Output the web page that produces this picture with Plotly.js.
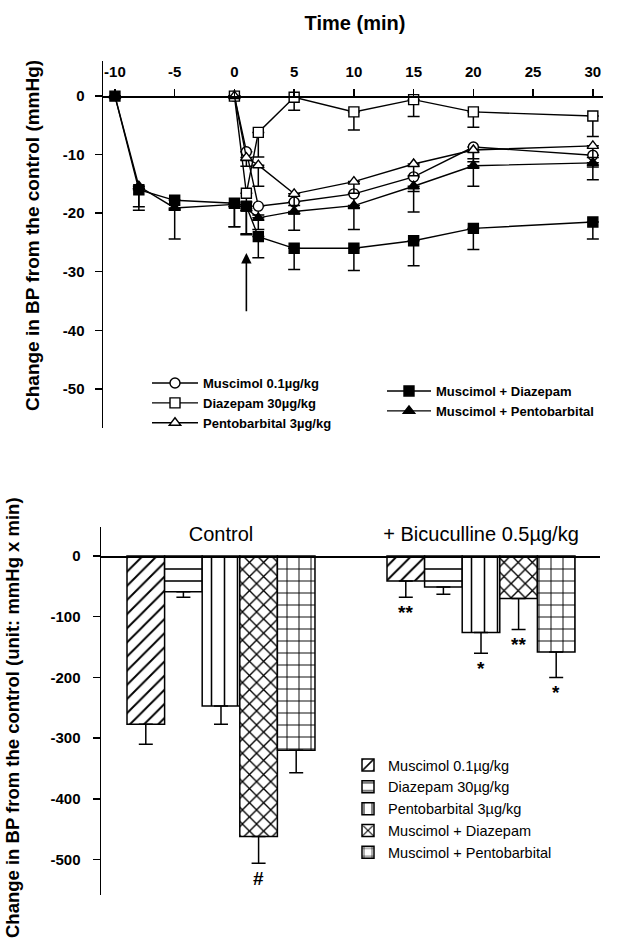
<!DOCTYPE html>
<html>
<head>
<meta charset="utf-8">
<script src="https://cdn.plot.ly/plotly-3.0.1.min.js"></script>
<style>html,body{margin:0;padding:0;background:#fff;}#chart{width:633px;height:938px;}</style>
</head>
<body>
<div id="chart"></div>
<script>
// ---------- Top panel data (time course) ----------
const timeSingle = [0, 1, 2, 5, 10, 15, 20, 30];
const timeCombo = [-10, -8, -5, 0, 1, 2, 5, 10, 15, 20, 30];

const muscimol = [0, -9.5, -18.8, -18.1, -16.7, -13.8, -8.7, -10.1];
const muscimolErr = [0, 1.5, 1.5, 2.0, 2.5, 2.5, 2.0, 2.0];
const diazepam = [0, -16.6, -6.2, -0.2, -2.7, -0.6, -2.7, -3.4];
const diazepamErr = [0, 1.5, 4.2, 2.2, 3.1, 2.9, 2.6, 3.5];
const pentobarbital = [0, -10.5, -11.8, -16.7, -14.6, -11.6, -9.2, -8.5];
const pentobarbitalErr = [0, 1.5, 3.6, 2.0, 2.0, 2.0, 2.0, 2.0];
const muscDiaz = [0, -16.0, -17.8, -18.3, -18.8, -24.0, -26.0, -26.0, -24.7, -22.6, -21.5];
const muscDiazErr = [0, 3.5, 1.5, 4.0, 4.7, 3.6, 3.6, 3.8, 4.3, 3.6, 2.9];
const muscPento = [0, -15.4, -19.1, -18.5, -19.2, -20.8, -19.7, -18.7, -15.4, -11.9, -11.4];
const muscPentoErr = [0, 3.5, 5.3, 3.8, 4.5, 2.0, 3.2, 4.1, 4.4, 3.5, 2.9];

const timeTicks = [-10, -5, 0, 5, 10, 15, 20, 25, 30];
const bpTicks = [0, -10, -20, -30, -40, -50];
const injectionTime = 1;

// ---------- Bottom panel data (AUC) ----------
const groups = ['Control', '+ Bicuculline 0.5µg/kg'];
const barNames = ['Muscimol 0.1µg/kg', 'Diazepam 30µg/kg', 'Pentobarbital 3µg/kg', 'Muscimol + Diazepam', 'Muscimol + Pentobarbital'];
const barVals = [[-277, -41], [-59, -51], [-247, -126], [-462, -70], [-320, -158]];
const barErr = [[33, 27], [9, 12], [30, 34], [44, 51], [37, 42]];
const barSig = [['', '**'], ['', ''], ['', '*'], ['#', '**'], ['', '*']];
const aucTicks = [0, -100, -200, -300, -400, -500];

// ---------- styling ----------
const FONT = 'Liberation Sans, Arial, Helvetica, sans-serif';
const bargap = 0.277;
const patterns = [
  {shape: '/', size: 10, solidity: 0.2},
  {shape: '-', size: 12, solidity: 0.13},
  {shape: '|', size: 13, solidity: 0.12},
  {shape: 'x', size: 10, solidity: 0.25},
  {shape: '+', size: 12, solidity: 0.15}
];

function lineTrace(x, y, err, name, symbol, filled, legend) {
  return {
    type: 'scatter', mode: 'lines+markers', x: x, y: y, name: name,
    xaxis: 'x', yaxis: 'y', legend: legend, cliponaxis: false,
    line: {color: 'black', width: 1.4},
    marker: {symbol: symbol, size: 10, color: filled ? 'black' : 'white',
             line: {color: 'black', width: 1.4}},
    error_y: {type: 'data', symmetric: false, array: y.map(() => 0), arrayminus: err,
              color: 'black', thickness: 1.5, width: 6}
  };
}

const traces = [
  lineTrace(timeSingle, muscimol, muscimolErr, 'Muscimol 0.1µg/kg', 'circle', false, 'legend'),
  lineTrace(timeSingle, diazepam, diazepamErr, 'Diazepam 30µg/kg', 'square', false, 'legend'),
  lineTrace(timeSingle, pentobarbital, pentobarbitalErr, 'Pentobarbital 3µg/kg', 'triangle-up', false, 'legend'),
  lineTrace(timeCombo, muscDiaz, muscDiazErr, 'Muscimol + Diazepam', 'square', true, 'legend2'),
  lineTrace(timeCombo, muscPento, muscPentoErr, 'Muscimol + Pentobarbital', 'triangle-up', true, 'legend2')
];

barNames.forEach((nm, i) => {
  traces.push({
    type: 'bar', x: groups, y: barVals[i], name: nm,
    xaxis: 'x2', yaxis: 'y2', legend: 'legend3',
    marker: {color: 'white', line: {color: 'black', width: 1.5},
             pattern: Object.assign({fgcolor: 'black', bgcolor: 'white', fillmode: 'replace'}, patterns[i])},
    error_y: {type: 'data', symmetric: false, array: barVals[i].map(() => 0), arrayminus: barErr[i],
              color: 'black', thickness: 1.5, width: 7}
  });
});

const W = 633, H = 938;
const px = v => v / W;
const py = v => 1 - v / H;

const annotations = [
  {text: 'Change in BP from the control (mmHg)', xref: 'paper', yref: 'paper', x: px(32), y: py(236),
   xanchor: 'center', yanchor: 'middle',
   textangle: -90, showarrow: false, font: {size: 19, weight: 'bold', family: FONT}},
  {text: 'Change in BP from the control (unit: mmHg x min)', xref: 'paper', yref: 'paper', x: px(12), y: py(718),
   xanchor: 'center', yanchor: 'middle',
   textangle: -90, showarrow: false, font: {size: 18.5, weight: 'bold', family: FONT}},
  {text: '', xref: 'x', yref: 'y', x: injectionTime, y: -26.8, axref: 'x', ayref: 'y', ax: injectionTime, ay: -37,
   showarrow: true, arrowhead: 2, arrowsize: 1.3, arrowwidth: 1.6, arrowcolor: 'black'}
];

const slot = (1 - bargap) / barNames.length;
barNames.forEach((nm, i) => {
  groups.forEach((g, gi) => {
    if (barSig[i][gi]) {
      annotations.push({
        text: barSig[i][gi], xref: 'x2', yref: 'y2',
        x: gi + (i - (barNames.length - 1) / 2) * slot,
        y: barVals[i][gi] - barErr[i][gi], yshift: -15, yanchor: 'middle',
        showarrow: false, font: {size: 19, weight: 'bold', family: FONT}
      });
    }
  });
});

const axisCommon = {showline: true, linecolor: 'black', linewidth: 1.5, showgrid: false, zeroline: false,
                    ticks: 'outside', tickcolor: 'black', tickwidth: 1.5, ticklen: 7};

const layout = {
  width: W, height: H,
  margin: {l: 0, r: 0, t: 0, b: 0},
  paper_bgcolor: 'white', plot_bgcolor: 'rgba(0,0,0,0)',
  font: {family: FONT, color: 'black'},
  title: {text: 'Time (min)', x: px(355), y: py(23), xref: 'paper', yref: 'paper',
          xanchor: 'center', yanchor: 'middle', font: {size: 20, weight: 'bold', family: FONT}},
  barmode: 'group', bargap: bargap, bargroupgap: 0,
  xaxis: Object.assign({}, axisCommon, {
    domain: [px(103), px(603)], range: [-11, 30.85], anchor: 'free', position: py(96), side: 'top',
    tickvals: timeTicks, ticktext: timeTicks.map(String), ticklabelstandoff: 6,
    tickfont: {size: 15, weight: 'bold', family: FONT}
  }),
  yaxis: Object.assign({}, axisCommon, {
    domain: [py(428), py(61)], range: [-56.7, 6], anchor: 'x',
    tickvals: bpTicks, ticktext: bpTicks.map(String), ticklabelstandoff: 7,
    tickfont: {size: 15, weight: 'bold', family: FONT}
  }),
  xaxis2: Object.assign({}, axisCommon, {
    domain: [px(101), px(600)], type: 'category', range: [-0.4615, 1.4577], anchor: 'free', position: py(556),
    side: 'top', ticks: '', ticklabelstandoff: 7,
    tickfont: {size: 20, family: FONT}
  }),
  yaxis2: Object.assign({}, axisCommon, {
    domain: [py(895), py(527)], range: [-558.5, 47.8], anchor: 'x2',
    tickvals: aucTicks, ticktext: aucTicks.map(String), ticklabelstandoff: 9,
    tickfont: {size: 15, weight: 'bold', family: FONT}
  }),
  legend: {x: px(147), y: py(368), xanchor: 'left', yanchor: 'top', bgcolor: 'rgba(0,0,0,0)',
           font: {size: 13, weight: 'bold', family: FONT}, itemwidth: 46, tracegroupgap: 0},
  legend2: {x: px(382), y: py(376), xanchor: 'left', yanchor: 'top', bgcolor: 'rgba(0,0,0,0)',
            font: {size: 13, weight: 'bold', family: FONT}, itemwidth: 44, tracegroupgap: 0},
  legend3: {x: px(348), y: py(749), xanchor: 'left', yanchor: 'top', bgcolor: 'rgba(0,0,0,0)',
            font: {size: 14.5, family: FONT}, itemwidth: 30, tracegroupgap: 0},
  annotations: annotations
};

Plotly.newPlot('chart', traces, layout, {staticPlot: true, displayModeBar: false});
</script>
</body>
</html>
